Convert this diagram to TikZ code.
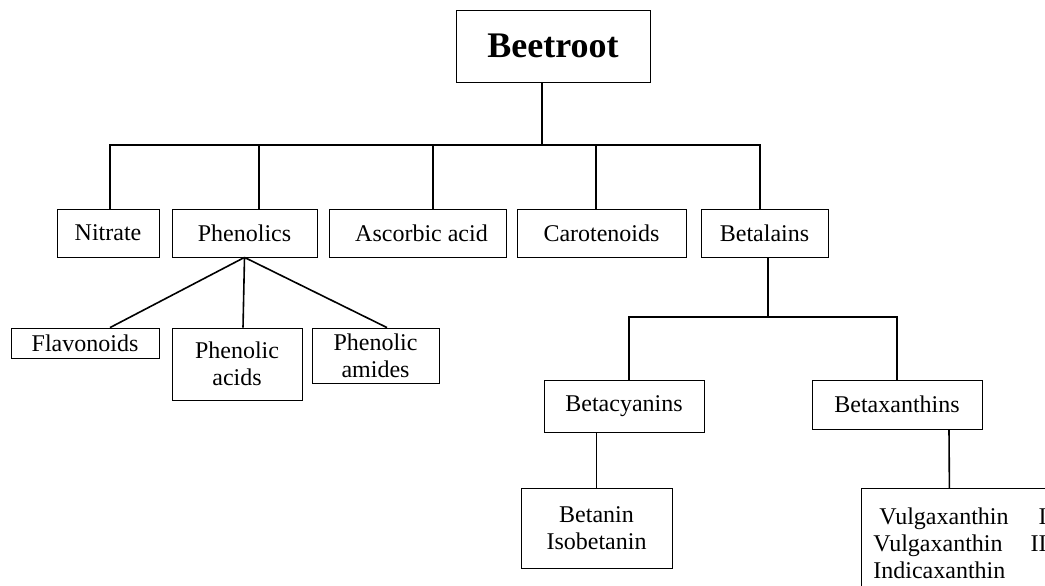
\documentclass[tikz,border=0pt]{standalone}
\usepackage{fontspec}
\setmainfont{Liberation Serif}
\usetikzlibrary{positioning}

\begin{document}
\begin{tikzpicture}[x=1pt, y=-1pt, font=\fontsize{24}{27}\selectfont]
  \tikzstyle{block} = [rectangle, draw, line width=0.8pt, text=black,
      align=center, inner sep=2pt]
  \tikzstyle{line} = [draw, line width=1.6pt]
  \clip (0,0) rectangle (1045,586);
      % Place nodes
      \node [block, minimum width=194, minimum height=72, font=\fontsize{36}{40}\selectfont\bfseries] (beet) at (553,46) {Beetroot};
      \node [block, minimum width=102, minimum height=48] (nitrate) at (108,233) {Nitrate};
      \node [block, minimum width=145, minimum height=48] (phen) at (244.5,233) {Phenolics};
      \node [block, minimum width=177, minimum height=48] (asc) at (417.5,233) {\hspace{8pt}Ascorbic acid};
      \node [block, minimum width=169, minimum height=48] (carot) at (601.5,233) {Carotenoids};
      \node [block, minimum width=127, minimum height=48] (betal) at (764.5,233) {Betalains};
      \node [block, minimum width=148, minimum height=30] (flav) at (85,343) {Flavonoids};
      \node [block, minimum width=130, minimum height=72] (phacid) at (237,364) {Phenolic\\acids};
      \node [block, minimum width=127, minimum height=55] (phamide) at (375.5,355.5) {Phenolic\\amides};
      \node [block, minimum width=160, minimum height=52] (betacy) at (624,406) {Betacyanins};
      \node [block, minimum width=170, minimum height=49] (betaxa) at (897,404.5) {Betaxanthins};
      \node [block, minimum width=151, minimum height=80] (betanin) at (596.5,528) {Betanin\\Isobetanin};
      \node [block, minimum height=110, align=left, anchor=north west,
          text width=220, inner sep=12pt] (vulga) at (861,488)
          {\hspace{6pt}Vulgaxanthin\hspace{30pt}I\\Vulgaxanthin\hspace{28pt}II\\Indicaxanthin};

  %paths
      \coordinate (bus) at (542,145);
      \coordinate (fork) at (768,317);
      \path [line] ([xshift=-11]beet.south) -- (bus);
      \path [line] ([xshift=2]nitrate.north) |- (bus);
      \path [line] ([xshift=14.5]phen.north) |- (bus);
      \path [line] ([xshift=15.5]asc.north) |- (bus);
      \path [line] ([xshift=-5.5]carot.north) |- (bus);
      \path [line] ([xshift=-4.5]betal.north) |- (bus);
      \path [line] (phen.south) -- ([xshift=25]flav.north);
      \path [line] (phen.south) -- ([xshift=6]phacid.north);
      \path [line] (phen.south) -- ([xshift=11.5]phamide.north);
      \path [line] ([xshift=3.5]betal.south) -- (fork);
      \path [line] ([xshift=5]betacy.north) |- (fork);
      \path [line] (betaxa.north) |- (fork);
      \path [line] ([xshift=-27.5]betacy.south) -- (betanin.north);
      \path [line] ([xshift=52]betaxa.south) -- ([xshift=-34]vulga.north);
  \end{tikzpicture}
\end{document}
